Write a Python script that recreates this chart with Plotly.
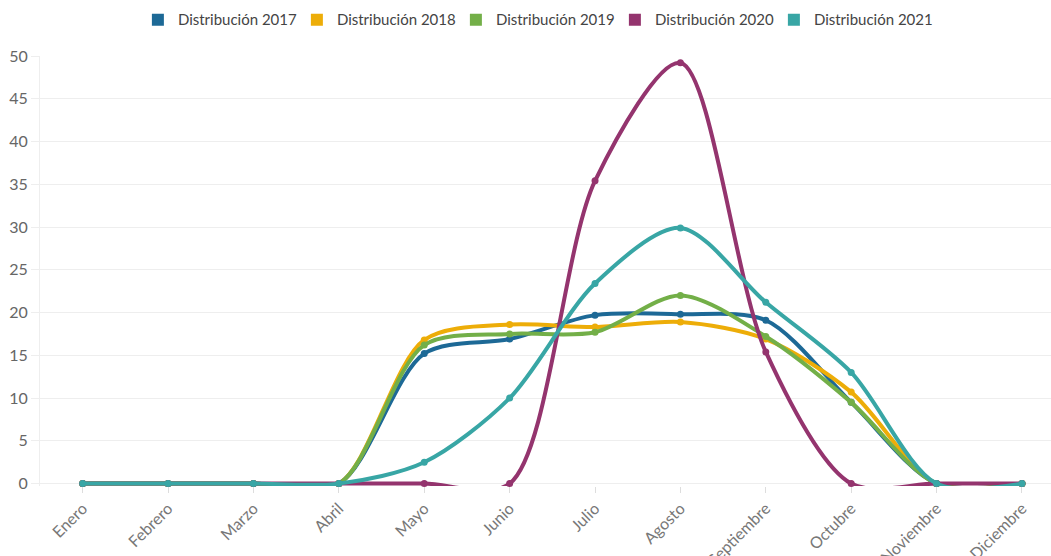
import plotly.graph_objects as go

meses = ["Enero", "Febrero", "Marzo", "Abril", "Mayo", "Junio", "Julio",
         "Agosto", "Septiembre", "Octubre", "Noviembre", "Diciembre"]

dist_2017 = [0, 0, 0, 0, 15.2, 16.9, 19.7, 19.8, 19.1, 9.5, 0, 0]
dist_2018 = [0, 0, 0, 0, 16.8, 18.6, 18.3, 18.9, 16.9, 10.7, 0, 0]
dist_2019 = [0, 0, 0, 0, 16.2, 17.5, 17.7, 22.0, 17.2, 9.5, 0, 0]
dist_2020 = [0, 0, 0, 0, 0, 0, 35.4, 49.2, 15.4, 0, 0, 0]
dist_2021 = [0, 0, 0, 0, 2.5, 10.0, 23.4, 29.9, 21.2, 13.0, 0, 0]

series = [
    ("Distribución 2017", dist_2017, "#1D6996"),
    ("Distribución 2018", dist_2018, "#EDAD08"),
    ("Distribución 2019", dist_2019, "#73AF48"),
    ("Distribución 2020", dist_2020, "#94346E"),
    ("Distribución 2021", dist_2021, "#38A6A5"),
]

fig = go.Figure()
for name, vals, color in series:
    fig.add_trace(go.Scatter(
        x=meses, y=vals, name=name, mode="lines+markers",
        line=dict(color=color, width=4, shape="spline", smoothing=0.85),
        marker=dict(color=color, size=7),
        legendgroup=name, showlegend=False, cliponaxis=False,
    ))
# legend swatches as square markers
for name, vals, color in series:
    fig.add_trace(go.Scatter(
        x=[None], y=[None], name=name, mode="markers",
        marker=dict(color=color, size=12, symbol="square"),
        legendgroup=name, showlegend=True,
    ))

fig.update_layout(
    width=1051, height=556,
    margin=dict(l=40, r=0, t=56, b=70),
    paper_bgcolor="white", plot_bgcolor="white",
    font=dict(family="Lato, 'Open Sans', sans-serif", color="#666666"),
    showlegend=True,
    legend=dict(orientation="h", x=0.49, xanchor="center", y=1.084, yanchor="middle",
                font=dict(size=15, color="#444444"), itemwidth=30,
                entrywidth=114, entrywidthmode="pixels",
                tracegroupgap=0),
    xaxis=dict(
        type="category", range=[-0.5, 11.34], automargin=False,
        showgrid=False, ticks="outside", ticklen=6, tickcolor="#dddddd",
        tickangle=-45, tickfont=dict(size=16, color="#777777"),
        showline=False, zeroline=False,
    ),
    yaxis=dict(
        range=[-0.28, 50], tickvals=list(range(0, 51, 5)),
        showgrid=True, gridcolor="#eeeeee", gridwidth=1,
        showline=True, linecolor="#eeeeee", linewidth=1, automargin=False,
        ticks="outside", ticklen=8, tickcolor="#eeeeee",
        tickfont=dict(size=16, color="#666666"),
        zeroline=False,
    ),
)

fig.write_html("out.html")
